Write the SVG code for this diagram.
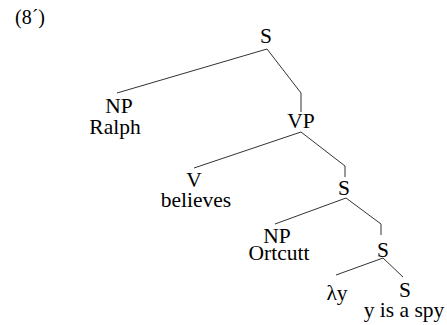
<svg xmlns="http://www.w3.org/2000/svg" width="447" height="325" viewBox="0 0 447 325">
<style>
text{font-family:"Liberation Serif","Times New Roman",serif;font-size:21.5px;fill:#000;text-anchor:middle}
.e{stroke:#333;stroke-width:1;fill:none}
</style>
<rect width="447" height="325" fill="#fff"/>
<text x="15" y="24" style="text-anchor:start;font-size:20px">(8´)</text>
<g id="connectors">
<path class="e" d="M267,49 L117,93"/>
<path class="e" d="M267,49 L301,93 L301,112"/>
<path class="e" d="M301,132 L194,168"/>
<path class="e" d="M301,132 L345,166 L345,177"/>
<path class="e" d="M346,198 L275,224"/>
<path class="e" d="M346,198 L381,224 L381,235"/>
<path class="e" d="M383,258 L336,275"/>
<path class="e" d="M383,258 L403,277"/>
</g>
<g id="s1"><text x="266" y="43">S</text></g>
<g id="np1"><text x="119" y="113">NP</text><text x="115" y="134">Ralph</text></g>
<g id="vp"><text x="301" y="128">VP</text></g>
<g id="v"><text x="194" y="187">V</text><text x="196" y="207">believes</text></g>
<g id="s2"><text x="344" y="195">S</text></g>
<g id="np2"><text x="277" y="243">NP</text><text x="279" y="260">Ortcutt</text></g>
<g id="s3"><text x="383" y="257">S</text></g>
<g id="lam"><text x="337" y="300">λy</text></g>
<g id="s4"><text x="405" y="297">S</text><text x="404" y="317">y is a spy</text></g>
</svg>
